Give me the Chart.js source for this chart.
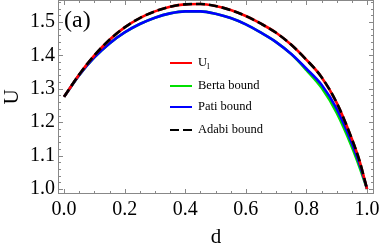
<!DOCTYPE html>
<html>
<head>
<meta charset="utf-8">
<script src="https://cdn.jsdelivr.net/npm/chart.js@4.4.1/dist/chart.umd.min.js"></script>
<style>
  html, body { margin: 0; padding: 0; background: #fff; }
  #wrap { width: 382px; height: 252px; }
</style>
</head>
<body>
<div id="wrap"><canvas id="chart" width="382" height="252"></canvas></div>
<script>
// data
const dVals = [0, 0.05, 0.1, 0.15, 0.2, 0.25, 0.3, 0.35, 0.4, 0.45, 0.5,
  0.55, 0.6, 0.65, 0.7, 0.75, 0.8, 0.85, 0.9, 0.95, 0.975, 1.0];
const ulVals = [1.276, 1.343, 1.400, 1.447, 1.484, 1.512, 1.532, 1.546, 1.553, 1.554, 1.548,
  1.536, 1.518, 1.495, 1.468, 1.432, 1.387, 1.335, 1.258, 1.150, 1.085, 1.0];
const bertaVals = [1.276, 1.341, 1.394, 1.436, 1.469, 1.494, 1.513, 1.526, 1.532, 1.532, 1.525,
  1.512, 1.493, 1.468, 1.440, 1.404, 1.356, 1.303, 1.228, 1.126, 1.066, 1.0];
const patiVals = [1.276, 1.341, 1.394, 1.436, 1.469, 1.494, 1.513, 1.526, 1.532, 1.532, 1.525,
  1.512, 1.493, 1.468, 1.440, 1.404, 1.360, 1.312, 1.240, 1.137, 1.075, 1.0];
const adabiVals = ulVals.slice();

const seriesLabels = ["U_l", "Berta bound", "Pati bound", "Adabi bound"];
const xTicks = [0, 0.2, 0.4, 0.6, 0.8, 1.0];
const yTicks = [1.0, 1.1, 1.2, 1.3, 1.4, 1.5];
const xMinor = [0, 0.05, 0.1, 0.15, 0.2, 0.25, 0.3, 0.35, 0.4, 0.45, 0.5, 0.55, 0.6, 0.65, 0.7, 0.75, 0.8, 0.85, 0.9, 0.95, 1.0];
const yMinor = [1.0, 1.02, 1.04, 1.06, 1.08, 1.1, 1.12, 1.14, 1.16, 1.18, 1.2, 1.22, 1.24, 1.26, 1.28, 1.3,
  1.32, 1.34, 1.36, 1.38, 1.4, 1.42, 1.44, 1.46, 1.48, 1.5, 1.52, 1.54, 1.56];

const toPts = (vals) => dVals.map((d, i) => ({ x: d, y: vals[i] }));
const serif = "'Liberation Serif', 'Times New Roman', serif";

// frame with inward ticks (Mathematica style)
const framePlugin = {
  id: "frame",
  beforeDatasetsDraw(chart) {
    const { ctx, chartArea: a, scales } = chart;
    const xs = scales.x, ys = scales.y;
    ctx.save();
    ctx.strokeStyle = "#888";
    ctx.lineWidth = 1;
    ctx.strokeRect(a.left + 0.5, a.top + 0.5, a.right - a.left - 1, a.bottom - a.top - 1);
    ctx.beginPath();
    xMinor.forEach((v) => {
      const len = xTicks.some((t) => Math.abs(t - v) < 1e-9) ? 5 : 3;
      const px = Math.round(xs.getPixelForValue(v)) + 0.5;
      ctx.moveTo(px, a.bottom); ctx.lineTo(px, a.bottom - len);
      ctx.moveTo(px, a.top); ctx.lineTo(px, a.top + len);
    });
    yMinor.forEach((v) => {
      const len = yTicks.some((t) => Math.abs(t - v) < 1e-9) ? 5 : 3;
      const py = Math.round(ys.getPixelForValue(v)) + 0.5;
      ctx.moveTo(a.left, py); ctx.lineTo(a.left + len, py);
      ctx.moveTo(a.right, py); ctx.lineTo(a.right - len, py);
    });
    ctx.stroke();
    ctx.restore();
  },
  afterDraw(chart) {
    const { ctx } = chart;
    ctx.save();
    // panel label
    ctx.fillStyle = "#000";
    ctx.font = "24px " + serif;
    ctx.textBaseline = "middle";
    ctx.fillText("(a)", 64, 21);
    // legend
    const rows = [63, 86, 107, 130];
    chart.data.datasets.forEach((ds, i) => {
      const y = rows[i];
      ctx.strokeStyle = ds.borderColor;
      ctx.lineWidth = 2;
      ctx.setLineDash(ds.borderDash || []);
      ctx.beginPath();
      ctx.moveTo(170, y); ctx.lineTo(192, y);
      ctx.stroke();
      ctx.setLineDash([]);
      ctx.fillStyle = "#000";
      ctx.font = "12.5px " + serif;
      const parts = ds.label.split("_");
      ctx.fillText(parts[0], 198, y);
      if (parts[1]) {
        const w = ctx.measureText(parts[0]).width;
        ctx.font = "9px " + serif;
        ctx.fillText(parts[1], 198 + w, y + 4);
      }
    });
    ctx.restore();
  }
};

const ds = (label, vals, color, order, dash) => ({
  label,
  data: toPts(vals),
  borderColor: color,
  backgroundColor: color,
  borderWidth: 2.6,
  borderDash: dash,
  pointRadius: 0,
  cubicInterpolationMode: "monotone",
  order
});

new Chart(document.getElementById("chart"), {
  type: "line",
  data: {
    datasets: [
      ds(seriesLabels[0], ulVals, "#ff0000", 1),
      ds(seriesLabels[1], bertaVals, "#00e000", 3),
      ds(seriesLabels[2], patiVals, "#0000ff", 2),
      ds(seriesLabels[3], adabiVals, "#000000", 0, [9, 4])
    ]
  },
  options: {
    responsive: false,
    animation: false,
    layout: { padding: { top: 0, right: 8, bottom: 0, left: 0 } },
    plugins: { legend: { display: false }, tooltip: { enabled: false } },
    scales: {
      x: {
        type: "linear",
        min: -0.02,
        max: 1.023,
        afterBuildTicks: (s) => { s.ticks = xTicks.map((v) => ({ value: v })); },
        afterFit: (s) => { s.height = 58; s.paddingLeft = 0; s.paddingRight = 0; },
        grid: { display: false, drawTicks: false },
        border: { display: false },
        ticks: {
          color: "#000",
          padding: 4,
          maxRotation: 0,
          font: { family: serif, size: 20 },
          callback: (v) => v.toFixed(1)
        },
        title: { display: true, text: "d", color: "#000", font: { family: serif, size: 21 }, padding: { top: 0, bottom: 2 } }
      },
      y: {
        type: "linear",
        min: 0.985,
        max: 1.566,
        afterBuildTicks: (s) => { s.ticks = yTicks.map((v) => ({ value: v })); },
        afterFit: (s) => { s.width = 58; s.paddingTop = 0; s.paddingBottom = 0; },
        grid: { display: false, drawTicks: false },
        border: { display: false },
        ticks: {
          color: "#000",
          padding: 3,
          font: { family: serif, size: 20 },
          callback: (v) => v.toFixed(1)
        },
        title: { display: true, text: "U", color: "#000", font: { family: serif, size: 21 }, padding: { top: 0, bottom: 0 } }
      }
    }
  },
  plugins: [framePlugin]
});
</script>
</body>
</html>
